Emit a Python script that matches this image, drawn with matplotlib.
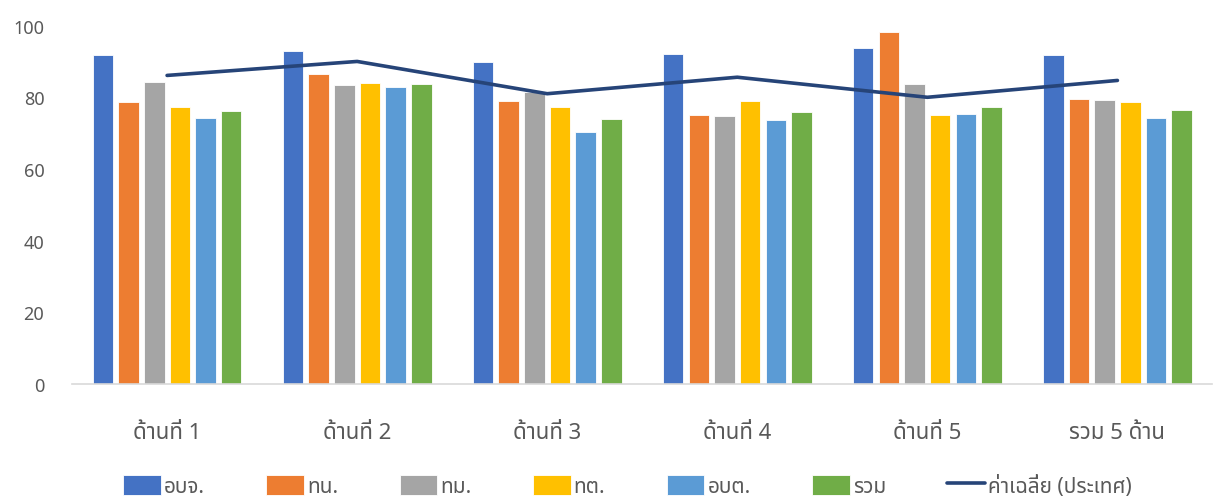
import matplotlib
matplotlib.use("Agg")
import matplotlib.pyplot as plt
import numpy as np

plt.rcParams['font.family'] = ['Noto Sans Thai', 'DejaVu Sans']

# ---- data ----
categories = ["ด้านที่ 1", "ด้านที่ 2", "ด้านที่ 3", "ด้านที่ 4", "ด้านที่ 5", "รวม 5 ด้าน"]
series_names = ["อบจ.", "ทน.", "ทม.", "ทต.", "อบต.", "รวม"]
obj = [91.8, 93.0, 89.9, 92.2, 93.8, 91.9]
tn = [78.6, 86.4, 79.1, 75.1, 98.3, 79.4]
tm = [84.4, 83.4, 81.4, 74.7, 83.8, 79.2]
tt = [77.4, 84.1, 77.4, 79.0, 75.1, 78.8]
obt = [74.1, 82.9, 70.2, 73.7, 75.2, 74.3]
total = [76.3, 83.7, 73.9, 75.9, 77.4, 76.5]
country_avg = [86.1, 90.0, 81.0, 85.6, 80.0, 84.7]
avg_name = "ค่าเฉลี่ย (ประเทศ)"

colors = ["#4472C4", "#ED7D31", "#A5A5A5", "#FFC000", "#5B9BD5", "#70AD47"]
line_color = "#264478"
text_color = "#595959"

# ---- plot ----
fig = plt.figure(figsize=(12.21, 5.02), dpi=100)
ax = fig.add_axes([0.0590, 0.233, 0.934, 0.714])

x = np.arange(len(categories))
step = 0.135
width = 0.108
handles = []
all_series = [obj, tn, tm, tt, obt, total]
for i, (vals, name) in enumerate(zip(all_series, series_names)):
    b = ax.bar(x + (i - 2.5) * step, vals, width, color=colors[i], label=name,
               edgecolor="white", linewidth=0.6)
    handles.append(b)

ln, = ax.plot(x, country_avg, color=line_color, linewidth=2.6, label=avg_name,
              solid_capstyle="round")
handles.append(ln)

ax.set_xlim(-0.5, len(categories) - 0.5)
ax.set_ylim(0, 100)
ax.set_yticks(range(0, 101, 20))
ax.set_xticks(x)
ax.set_xticklabels(categories)
ax.tick_params(axis="both", length=0, colors=text_color, labelsize=13)
ax.tick_params(axis="x", pad=27, labelsize=16)
ax.tick_params(axis="y", pad=20)
for s in ["top", "right", "left"]:
    ax.spines[s].set_visible(False)
ax.spines["bottom"].set_color("#D9D9D9")
ax.spines["bottom"].set_linewidth(1.2)

leg = fig.legend(handles=handles, labels=series_names + [avg_name],
                 loc="center", bbox_to_anchor=(0.514, 0.03), ncol=7, frameon=False,
                 fontsize=15, handlelength=1.8, handleheight=1.1, handletextpad=0.15,
                 columnspacing=2.95, labelcolor=text_color)

fig.savefig("out.png", dpi=100)
